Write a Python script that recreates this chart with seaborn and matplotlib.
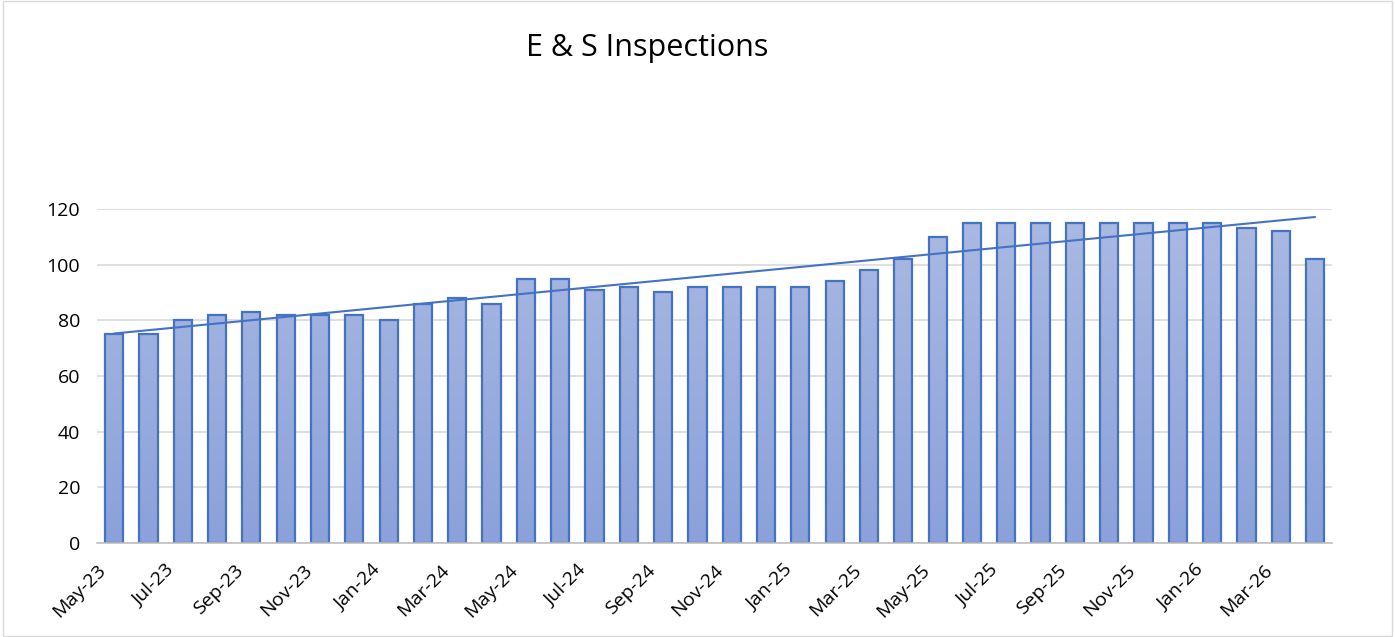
import numpy as np
import pandas as pd
import matplotlib
matplotlib.use("Agg")
import matplotlib.pyplot as plt
from matplotlib.colors import LinearSegmentedColormap
import seaborn as sns

# monthly inspection counts, May-23 .. Apr-26
months = ["May-23", "Jun-23", "Jul-23", "Aug-23", "Sep-23", "Oct-23", "Nov-23", "Dec-23",
          "Jan-24", "Feb-24", "Mar-24", "Apr-24", "May-24", "Jun-24", "Jul-24", "Aug-24",
          "Sep-24", "Oct-24", "Nov-24", "Dec-24", "Jan-25", "Feb-25", "Mar-25", "Apr-25",
          "May-25", "Jun-25", "Jul-25", "Aug-25", "Sep-25", "Oct-25", "Nov-25", "Dec-25",
          "Jan-26", "Feb-26", "Mar-26", "Apr-26"]
inspections = [75, 75, 80, 82, 83, 82, 82, 82,
               80, 86, 88, 86, 95, 95, 91, 92,
               90, 92, 92, 92, 92, 94, 98, 102,
               110, 115, 115, 115, 115, 115, 115, 115,
               115, 113, 112, 102]
yticks = [0, 20, 40, 60, 80, 100, 120]

df = pd.DataFrame({"Month": months, "Inspections": inspections})

sns.set_style("white")
plt.rcParams['font.family'] = ['Open Sans', 'DejaVu Sans']
plt.rcParams['text.color'] = 'black'
plt.rcParams['xtick.color'] = 'black'
plt.rcParams['ytick.color'] = 'black'

fig = plt.figure(figsize=(13.95, 6.37), dpi=100)
ax = fig.add_axes([0.0695, 0.1476, 0.8855, 0.5243])

sns.barplot(data=df, x="Month", y="Inspections", ax=ax, width=0.53,
            color="#a3b4df", edgecolor="#4472c4", linewidth=1.6, zorder=2)

# vertical gradient fill clipped to each bar
grad = LinearSegmentedColormap.from_list("bar", ["#8aa1da", "#abbae2"])
gimg = np.linspace(0, 1, 256).reshape(-1, 1)
for p in ax.patches:
    x0 = p.get_x()
    w = p.get_width()
    im = ax.imshow(gimg, cmap=grad, aspect="auto", origin="lower",
                   extent=[x0, x0 + w, 0, 120], zorder=1.9)
    im.set_clip_path(p)
    p.set_facecolor("none")

# linear trendline
xs = np.arange(len(inspections))
slope, intercept = np.polyfit(xs, inspections, 1)
ax.plot([xs[0], xs[-1]], [intercept, slope * xs[-1] + intercept],
        color="#4472c4", linewidth=1.5, zorder=3)

ax.set_xlim(-0.5, len(months) - 0.5)
ax.set_ylim(0, 120)
ax.set_yticks(yticks)
ax.set_yticklabels([str(v) for v in yticks], fontsize=14)
ax.yaxis.grid(True, color="#d9d9d9", linewidth=1.2, zorder=0)
ax.set_axisbelow(True)

tick_pos = np.arange(-0.5, len(months), 2)
ax.set_xticks(tick_pos)
ax.set_xticklabels([months[int(t + 0.5)] if t + 0.5 < len(months) - 1 else "" for t in tick_pos],
                   rotation=45, ha="right", rotation_mode="anchor", fontsize=14)
ax.tick_params(axis="x", direction="out", length=7, color="#bfbfbf", width=1.2, pad=6)
ax.tick_params(axis="y", length=0, pad=12)
for side in ["top", "right", "left"]:
    ax.spines[side].set_visible(False)
ax.spines["bottom"].set_color("#bfbfbf")
ax.spines["bottom"].set_linewidth(1.2)
ax.set_xlabel("")
ax.set_ylabel("")

fig.text(0.464, 0.924, "E & S Inspections", ha="center", va="center", fontsize=22)

# chart area border
fig.patches.append(plt.Rectangle((0.002, 0.002), 0.996, 0.996, transform=fig.transFigure,
                                 fill=False, edgecolor="#d9d9d9", linewidth=1))

fig.savefig("out.png", dpi=100)
